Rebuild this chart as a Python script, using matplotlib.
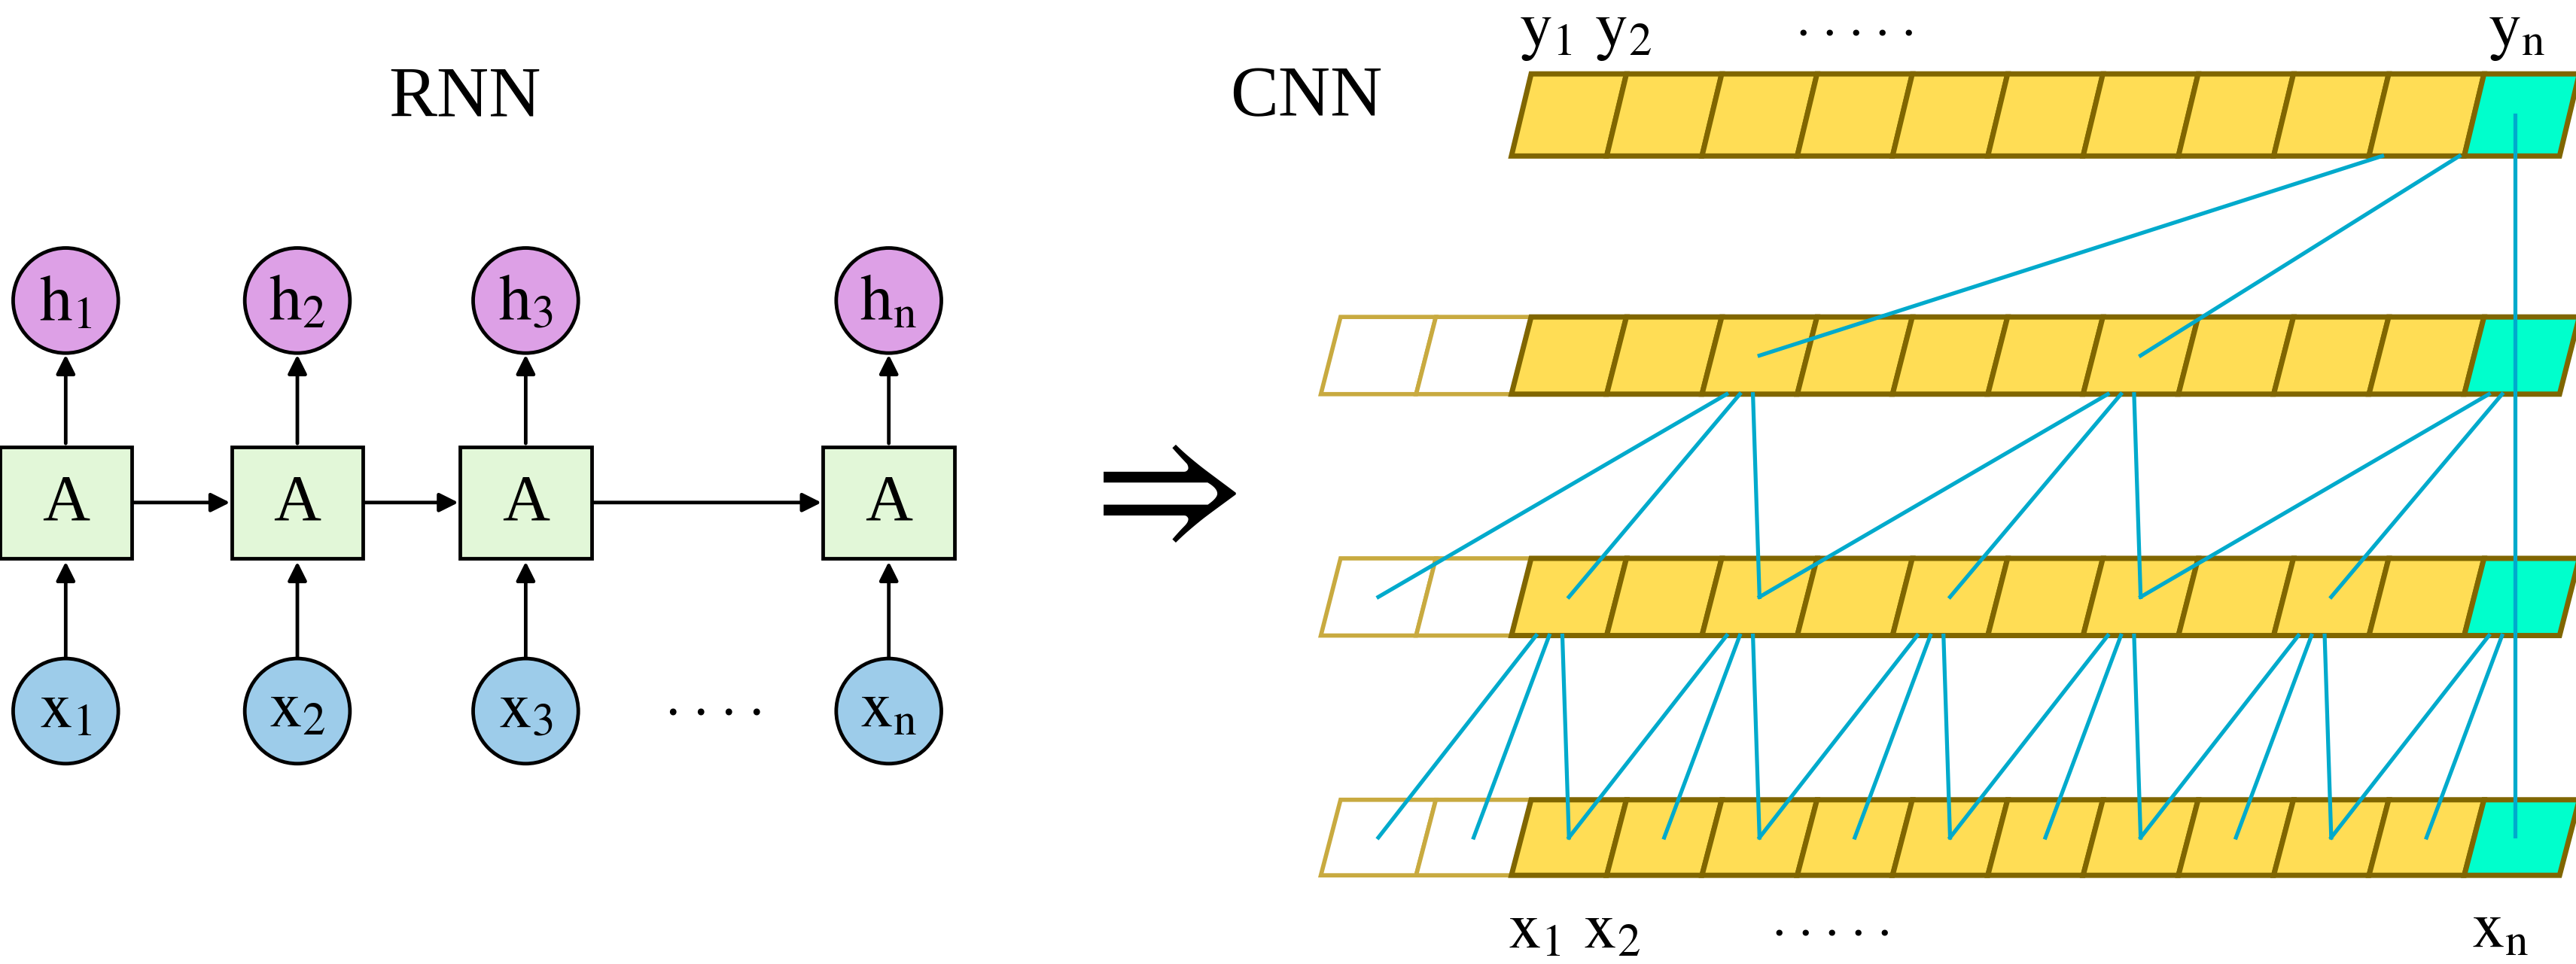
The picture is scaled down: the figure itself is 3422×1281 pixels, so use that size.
import matplotlib
matplotlib.use("Agg")
import matplotlib.pyplot as plt
from matplotlib.patches import Polygon, Circle, Rectangle, FancyArrowPatch

plt.rcParams['mathtext.fontset'] = 'stix'
plt.rcParams['font.family'] = ['Liberation Serif', 'DejaVu Serif']

# ---- data (diagram structure) ----
rnn_steps = ['1', '2', '3', 'n']
cnn_titles = ['RNN', 'CNN']
n_pad = 2          # white padding cells
n_cells = 11       # yellow + final cyan cell
# (layer from, layer to, dilation, source cells)
conv_layers = [
    (0, 1, 4, [10]),
    (1, 2, 2, [2, 6, 10]),
    (2, 3, 1, [0, 2, 4, 6, 8, 10]),
]

S = 2.18                      # reference display px -> output px
PT = S * 72 / 100             # display px -> points

fig = plt.figure(figsize=(34.22, 12.81), dpi=100)
ax = fig.add_axes([0, 0, 1, 1])
ax.set_xlim(0, 1568)
ax.set_ylim(587, 0)
ax.axis('off')

def fs(px):
    return px * PT

YELLOW = '#FFDD55'
DARK = '#806600'
PALE = '#C8AA40'
CYAN = '#00FFCC'
BLUE = '#00AACC'
LW = 2.4 * PT

# ---------------- RNN ----------------
xs = [40, 181, 320, 541]
for i, (x, s) in enumerate(zip(xs, rnn_steps)):
    ax.add_patch(Circle((x, 183), 32, fc='#DDA0E6', ec='black', lw=2.2 * PT, zorder=3))
    ax.text(x, 185, r'$\mathrm{h}_{\mathrm{%s}}$' % s, ha='center', va='center', fontsize=fs(40), zorder=4)
    ax.add_patch(Rectangle((x - 40, 272), 80, 68, fc='#E2F7D8', ec='black', lw=2.2 * PT, zorder=3))
    ax.text(x, 307, 'A', ha='center', va='center', fontsize=fs(40), zorder=4)
    ax.add_patch(Circle((x, 433), 32, fc='#9DCCEA', ec='black', lw=2.2 * PT, zorder=3))
    ax.text(x, 433, r'$\mathrm{x}_{\mathrm{%s}}$' % s, ha='center', va='center', fontsize=fs(40), zorder=4)
    for (y0, y1) in [(401, 342), (270, 216)]:
        ax.add_patch(FancyArrowPatch((x, y0), (x, y1), arrowstyle='-|>', mutation_scale=fs(24),
                                     lw=2.2 * PT, color='black', zorder=2, shrinkA=0, shrinkB=0))
    if i < len(xs) - 1:
        ax.add_patch(FancyArrowPatch((x + 41, 306), (xs[i + 1] - 41, 306), arrowstyle='-|>',
                                     mutation_scale=fs(24), lw=2.2 * PT, color='black', zorder=2,
                                     shrinkA=0, shrinkB=0))
ax.text(435, 443, '. . . .', ha='center', va='bottom', fontsize=fs(34))
ax.text(283, 60, cnn_titles[0], ha='center', va='center', fontsize=fs(44))
ax.text(795, 60, cnn_titles[1], ha='center', va='center', fontsize=fs(44))
ax.text(702, 302, r'$\Rightarrow$', ha='center', va='center', fontsize=fs(100))

# ---------------- CNN ----------------
rows = [(45, 95), (193, 240), (340, 387), (487, 533)]
x0, w, skew = 920, 58, 12

def cell_poly(k, top, bot):
    xl = x0 + w * k
    return [(xl, bot), (xl + skew, top), (xl + w + skew, top), (xl + w, bot)]

def cell_center(k, r):
    top, bot = rows[r]
    return x0 + w * k + w / 2 + skew / 2, (top + bot) / 2

for r, (top, bot) in enumerate(rows):
    if r > 0:
        for k in range(-n_pad, 0):
            ax.add_patch(Polygon(cell_poly(k, top, bot), closed=True, fc='white', ec=PALE,
                                 lw=2.6 * PT, zorder=1))
    for k in range(n_cells):
        fc = CYAN if k == n_cells - 1 else YELLOW
        ax.add_patch(Polygon(cell_poly(k, top, bot), closed=True, fc=fc, ec=DARK,
                             lw=3.2 * PT, zorder=2))

for r0, r1, d, srcs in conv_layers:
    bot = rows[r0][1]
    for c in srcs:
        targets = [c - 2 * d, c - d, c]
        offs = [-14, -6, 2] if r0 > 0 else [-79, -32, 2]
        for t, o in zip(targets, offs):
            if c == n_cells - 1 and t == c:
                continue
            sx = x0 + w * c + w / 2 + o
            tx, ty = cell_center(t, r1)
            ax.plot([sx, tx], [bot, ty], color=BLUE, lw=LW, zorder=3)

# long vertical through the last cell
cx = x0 + w * (n_cells - 1) + w / 2 + 2
ax.plot([cx, cx], [rows[0][0] + 25, rows[3][0] + 22], color=BLUE, lw=LW, zorder=3)

ax.text(965, 20, r'$\mathrm{y}_1\ \mathrm{y}_2$', ha='center', va='center', fontsize=fs(40))
ax.text(1130, 14, '. . . . .', ha='center', va='center', fontsize=fs(32))
ax.text(1532, 20, r'$\mathrm{y}_\mathrm{n}$', ha='center', va='center', fontsize=fs(40))
ax.text(958, 567, r'$\mathrm{x}_1\ \mathrm{x}_2$', ha='center', va='center', fontsize=fs(40))
ax.text(1115, 562, '. . . . .', ha='center', va='center', fontsize=fs(32))
ax.text(1522, 567, r'$\mathrm{x}_\mathrm{n}$', ha='center', va='center', fontsize=fs(40))

fig.savefig('out.png', dpi=100)
